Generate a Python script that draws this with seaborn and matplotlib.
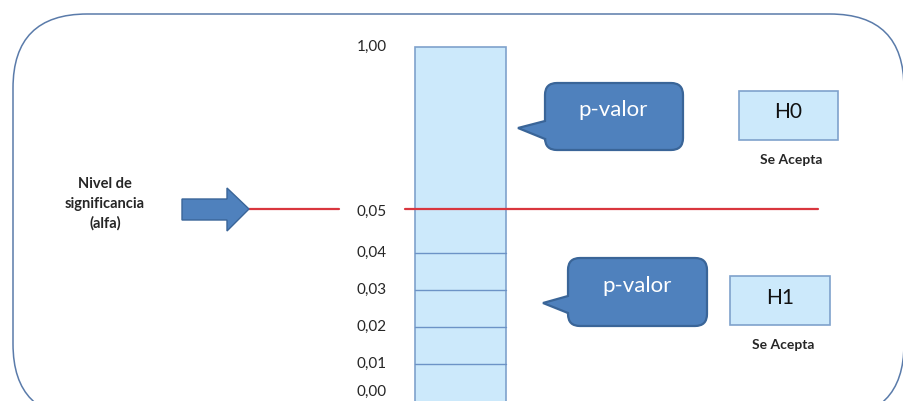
import numpy as np
import seaborn as sns
import matplotlib.pyplot as plt
from matplotlib.patches import Rectangle, FancyBboxPatch, PathPatch, Polygon
from matplotlib.path import Path

# datos del esquema
niveles = [0.00, 0.01, 0.02, 0.03, 0.04, 0.05, 1.00]
etiquetas = ["0,00", "0,01", "0,02", "0,03", "0,04", "0,05", "1,00"]
alfa = 0.05
texto_alfa = "Nivel de\nsignificancia\n(alfa)"
hipotesis = ["H0", "H1"]
texto_bocadillo = "p-valor"
texto_decision = "Se Acepta"

sns.set_theme(style="white")
plt.rcParams['font.family'] = ['Lato', 'DejaVu Sans']

# posicion vertical (pixeles) de cada nivel en la escala partida
pos_niveles = [396, 364, 327, 290, 253, 209, 47]
def y_de(v):
    return np.interp(v, niveles, pos_niveles)

azul = '#4F81BD'
azul_osc = '#3A6598'
celeste = '#CCE9FB'
borde_cel = '#7FA2CC'
rojo = '#D9363E'
gris = '#262626'

fig = plt.figure(figsize=(9.04, 4.01), dpi=100)
ax = fig.add_axes([0, 0, 1, 1])
ax.set_xlim(0, 904)
ax.set_ylim(401, 0)
ax.axis('off')

# marco redondeado
ax.add_patch(FancyBboxPatch((13, 14), 891, 404, boxstyle="round,pad=0,rounding_size=74",
                            fc='white', ec='#5A7BAA', lw=1.1, zorder=0))

# columna de p-valores
col_x, col_w = 415, 91
ax.add_patch(Rectangle((col_x, y_de(1.0)), col_w, 420 - y_de(1.0), fc=celeste, ec=borde_cel, lw=1.2, zorder=1))
for v in niveles[1:5]:
    ax.plot([col_x, col_x + col_w], [y_de(v)] * 2, color='#6C93C6', lw=1, zorder=2)

# etiquetas de la escala
for v, t in zip(niveles, etiquetas):
    ax.text(387, min(y_de(v) + (3 if v == alfa else 0), 392), t, ha='right', va='center',
            fontsize=11, color=gris, zorder=3)

# linea de alfa
ya = y_de(alfa)
ax.plot([249, 339], [ya, ya], color=rojo, lw=1.6, zorder=3)
ax.plot([405, 818], [ya, ya], color=rojo, lw=1.6, zorder=3)

# flecha de bloque
flecha = [(182, ya - 10), (227, ya - 10), (227, ya - 21), (249, ya), (227, ya + 22),
          (227, ya + 11), (182, ya + 11)]
ax.add_patch(Polygon(flecha, closed=True, fc=azul, ec=azul_osc, lw=1, zorder=4))
ax.text(105, 204, texto_alfa, ha='center', va='center', fontsize=10.5, color=gris,
        fontweight='bold', linespacing=1.5)


def bocadillo(x0, y0, x1, y1, punta, b1, b2, r=12):
    P = Path
    verts = [(x0 + r, y0), (x1 - r, y0), (x1, y0), (x1, y0 + r), (x1, y1 - r), (x1, y1),
             (x1 - r, y1), (x0 + r, y1), (x0, y1), (x0, y1 - r), (x0, b2), punta,
             (x0, b1), (x0, y0 + r), (x0, y0), (x0 + r, y0), (x0 + r, y0)]
    codes = [P.MOVETO, P.LINETO, P.CURVE3, P.CURVE3, P.LINETO, P.CURVE3, P.CURVE3,
             P.LINETO, P.CURVE3, P.CURVE3, P.LINETO, P.LINETO, P.LINETO, P.LINETO,
             P.CURVE3, P.CURVE3, P.CLOSEPOLY]
    ax.add_patch(PathPatch(Path(verts, codes), fc=azul, ec=azul_osc, lw=1.6, zorder=4))


bocadillo(545, 83, 683, 150, (518, 128), 121, 139)
ax.text(613, 110, texto_bocadillo, ha='center', va='center', fontsize=16, color='white', zorder=5)
bocadillo(568, 258, 707, 326, (543, 303), 296, 313)
ax.text(637, 286, texto_bocadillo, ha='center', va='center', fontsize=16, color='white', zorder=5)

# cajas de hipotesis
cajas = [(739, 91, 99, 49), (730, 276, 100, 49)]
for h, (x, y, w, hh) in zip(hipotesis, cajas):
    ax.add_patch(Rectangle((x, y), w, hh, fc=celeste, ec=borde_cel, lw=1.2, zorder=4))
    ax.text(x + w / 2, y + hh / 2 - 3, h, ha='center', va='center', fontsize=15, color='#111111', zorder=5)
    ax.text(x + w / 2 + 3, y + hh + 20, texto_decision, ha='center', va='center', fontsize=10,
            color=gris, fontweight='bold', zorder=5)

plt.savefig('out.png', dpi=100)
